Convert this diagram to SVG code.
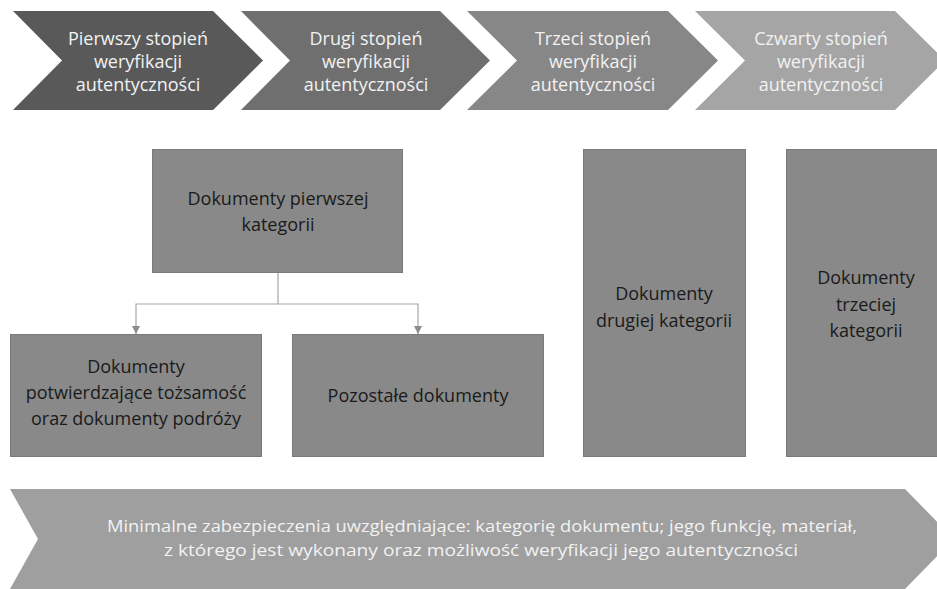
<svg xmlns="http://www.w3.org/2000/svg" width="937" height="589" viewBox="0 0 937 589">
<defs>
<style>
.chev text{font-family:"Open Sans","Noto Sans",sans-serif;font-size:18px;fill:#f2f2f2;text-anchor:middle}
.box rect{fill:#898989;stroke:#7a7a7a;stroke-width:1}
.box text{font-family:"Open Sans","Noto Sans",sans-serif;font-size:18px;fill:#1a1a1a;text-anchor:middle}
.conn{fill:none;stroke:#a6a6a6;stroke-width:1.2}
.bottom text{font-family:"Open Sans","Noto Sans",sans-serif;font-size:15.5px;fill:#f2f2f2;text-anchor:middle}
</style>
<marker id="ah" viewBox="0 0 10 10" refX="10" refY="5" markerWidth="8" markerHeight="8" markerUnits="userSpaceOnUse" orient="auto">
<path d="M0,0 L10,5 L0,10 Z" fill="#8c8c8c"/>
</marker>
</defs>
<rect width="937" height="589" fill="#ffffff"/>

<g id="stage1" class="chev">
<polygon points="13,11 213,11 263,60.5 213,110 13,110 62,60.5" fill="#595959"/>
<text x="138" y="45">Pierwszy stopień</text>
<text x="138" y="68">weryfikacji</text>
<text x="138" y="91">autentyczności</text>
</g>
<g id="stage2" class="chev">
<polygon points="241,11 440,11 490,60.5 440,110 241,110 290,60.5" fill="#6f6f6f"/>
<text x="366" y="45">Drugi stopień</text>
<text x="366" y="68">weryfikacji</text>
<text x="366" y="91">autentyczności</text>
</g>
<g id="stage3" class="chev">
<polygon points="467,11 668,11 718,60.5 668,110 467,110 517,60.5" fill="#878787"/>
<text x="593" y="45">Trzeci stopień</text>
<text x="593" y="68">weryfikacji</text>
<text x="593" y="91">autentyczności</text>
</g>
<g id="stage4" class="chev">
<polygon points="695,11 895,11 945,60.5 895,110 695,110 745,60.5" fill="#a5a5a5"/>
<text x="821" y="45">Czwarty stopień</text>
<text x="821" y="68">weryfikacji</text>
<text x="821" y="91">autentyczności</text>
</g>

<g id="cat1" class="box">
<rect x="152.5" y="149.5" width="250" height="123"/>
<text x="278" y="205">Dokumenty pierwszej</text>
<text x="278" y="231">kategorii</text>
</g>
<g id="cat1a" class="box">
<rect x="10.5" y="334.5" width="251" height="122"/>
<text x="136" y="373">Dokumenty</text>
<text x="136" y="399">potwierdzające tożsamość</text>
<text x="136" y="425">oraz dokumenty podróży</text>
</g>
<g id="cat1b" class="box">
<rect x="292.5" y="334.5" width="251" height="122"/>
<text x="418" y="402">Pozostałe dokumenty</text>
</g>
<g id="cat2" class="box">
<rect x="583.5" y="149.5" width="162" height="307"/>
<text x="664" y="300">Dokumenty</text>
<text x="664" y="327">drugiej kategorii</text>
</g>
<g id="cat3" class="box">
<rect x="786.5" y="149.5" width="160" height="307"/>
<text x="866" y="284">Dokumenty</text>
<text x="866" y="311">trzeciej</text>
<text x="866" y="337">kategorii</text>
</g>

<g id="connectors">
<path class="conn" d="M278,273 V304 H136 V334" marker-end="url(#ah)"/>
<path class="conn" d="M278,304 H418 V334" marker-end="url(#ah)"/>
</g>

<g id="security" class="bottom">
<polygon points="10,489 905,489 954,539 905,589 10,589 38,539" fill="#9f9f9f"/>
<text x="482" y="532" textLength="750" lengthAdjust="spacingAndGlyphs">Minimalne zabezpieczenia  uwzględniające: kategorię dokumentu; jego funkcję, materiał,</text>
<text x="481" y="556" textLength="634" lengthAdjust="spacingAndGlyphs">z którego jest wykonany oraz możliwość weryfikacji jego autentyczności</text>
</g>
</svg>
